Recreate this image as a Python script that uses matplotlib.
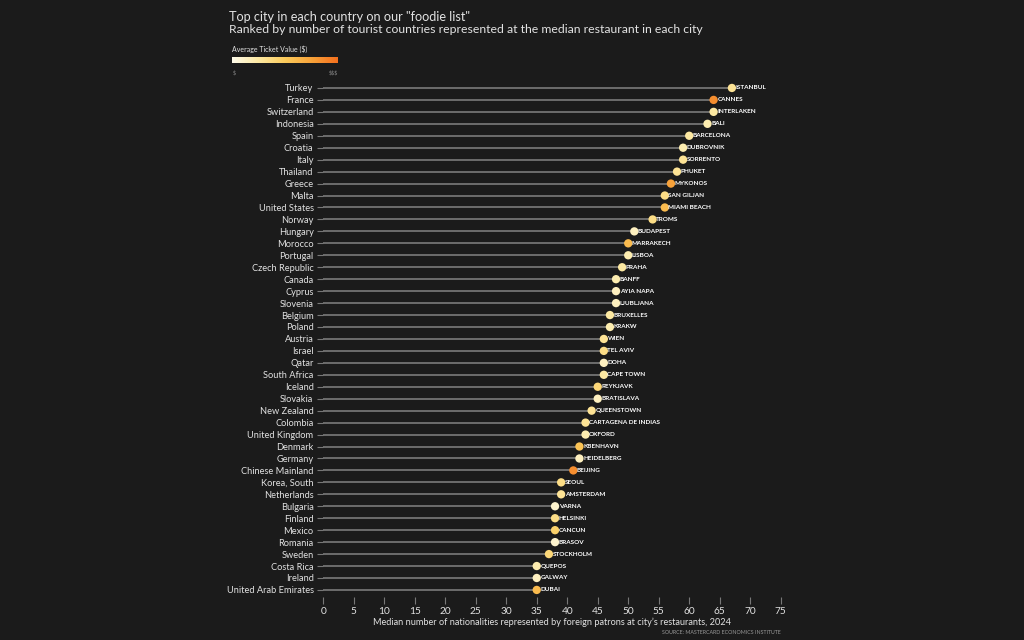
import matplotlib
matplotlib.use('Agg')
import matplotlib.pyplot as plt
from matplotlib.colors import LinearSegmentedColormap
import numpy as np

plt.rcParams['font.family'] = ['Lato', 'DejaVu Sans']

countries = ['Turkey', 'France', 'Switzerland', 'Indonesia', 'Spain', 'Croatia', 'Italy',
             'Thailand', 'Greece', 'Malta', 'United States', 'Norway', 'Hungary', 'Morocco',
             'Portugal', 'Czech Republic', 'Canada', 'Cyprus', 'Slovenia', 'Belgium', 'Poland',
             'Austria', 'Israel', 'Qatar', 'South Africa', 'Iceland', 'Slovakia', 'New Zealand',
             'Colombia', 'United Kingdom', 'Denmark', 'Germany', 'Chinese Mainland',
             'Korea, South', 'Netherlands', 'Bulgaria', 'Finland', 'Mexico', 'Romania',
             'Sweden', 'Costa Rica', 'Ireland', 'United Arab Emirates']
cities = ['ISTANBUL', 'CANNES', 'INTERLAKEN', 'BALI', 'BARCELONA', 'DUBROVNIK', 'SORRENTO',
          'PHUKET', 'MYKONOS', 'SAN GILJAN', 'MIAMI BEACH', 'TROMS', 'BUDAPEST', 'MARRAKECH',
          'LISBOA', 'PRAHA', 'BANFF', 'AYIA NAPA', 'LJUBLJANA', 'BRUXELLES', 'KRAKW',
          'WIEN', 'TEL AVIV', 'DOHA', 'CAPE TOWN', 'REYKJAVK', 'BRATISLAVA', 'QUEENSTOWN',
          'CARTAGENA DE INDIAS', 'OXFORD', 'KBENHAVN', 'HEIDELBERG', 'BEIJING',
          'SEOUL', 'AMSTERDAM', 'VARNA', 'HELSINKI', 'CANCUN', 'BRASOV',
          'STOCKHOLM', 'QUEPOS', 'GALWAY', 'DUBAI']
nationalities = [67, 64, 64, 63, 60, 59, 59, 58, 57, 56, 56, 54, 51, 50, 50, 49, 48, 48, 48,
                 47, 47, 46, 46, 46, 46, 45, 45, 44, 43, 43, 42, 42, 41, 39, 39, 38, 38, 38,
                 38, 37, 35, 35, 35]
# relative average ticket value (0 = $, 1 = $$$)
ticket = [0.3, 0.85, 0.25, 0.2, 0.25, 0.2, 0.3, 0.3, 0.75, 0.35, 0.6, 0.35, 0.15, 0.6,
          0.2, 0.25, 0.2, 0.15, 0.15, 0.25, 0.2, 0.3, 0.35, 0.15, 0.25, 0.4, 0.15, 0.3,
          0.3, 0.2, 0.55, 0.15, 0.85, 0.35, 0.3, 0.1, 0.35, 0.45, 0.1, 0.4, 0.2, 0.15, 0.6]

bg = '#1b1b1b'
txt = '#e2e2e2'
cmap = LinearSegmentedColormap.from_list('ticket', ['#fffbea', '#fde9a2', '#fbcb5c',
                                                     '#f8a33a', '#f4701e'])

fig = plt.figure(figsize=(10.24, 6.4), dpi=100)
fig.patch.set_facecolor(bg)
ax = fig.add_axes([0.3157, 0.0672, 0.4467, 0.8047])
ax.set_facecolor(bg)

y = np.arange(len(countries))
ax.hlines(y, 0, nationalities, color='#737373', lw=1.3, zorder=1)
ax.scatter(nationalities, y, s=36, c=ticket, cmap=cmap, vmin=0, vmax=1,
           edgecolors='none', zorder=3)
for yi, v, name in zip(y, nationalities, cities):
    ax.text(v + 0.6, yi, name, fontsize=4.6, weight='bold', color='white',
            va='center', ha='left', zorder=4)

ax.set_xlim(0, 75)
ax.set_ylim(len(countries) - 0.41, -0.5)
ax.set_xticks(np.arange(0, 76, 5))
ax.set_yticks(y)
ax.set_yticklabels(countries)
for s in ax.spines.values():
    s.set_visible(False)
ax.tick_params(axis='y', colors='#777777', labelcolor=txt, labelsize=6.7, length=4, width=0.8, pad=3)
ax.tick_params(axis='x', colors='#777777', labelcolor=txt, labelsize=7.3, length=5, width=0.8, pad=2)
ax.set_xlabel("Median number of nationalities represented by foreign patrons at city\u2019s restaurants, 2024",
              fontsize=6.6, color=txt, labelpad=1)

fig.text(0.2236, 0.974, 'Top city in each country on our "foodie list"', fontsize=9.1,
         color=txt, va='center', ha='left')
fig.text(0.2236, 0.954, 'Ranked by number of tourist countries represented at the median restaurant in each city',
         fontsize=8.8, color=txt, va='center', ha='left')

# colour legend
fig.text(0.2266, 0.923, 'Average Ticket Value ($)', fontsize=5, color=txt, va='center', ha='left')
cax = fig.add_axes([0.2266, 0.901, 0.1035, 0.0095])
cax.imshow(np.linspace(0, 1, 256)[None, :], aspect='auto', cmap=cmap)
cax.set_axis_off()
fig.text(0.2275, 0.887, '$', fontsize=4, color='#888888', va='center', ha='left')
fig.text(0.3301, 0.887, '$$$', fontsize=4, color='#888888', va='center', ha='right')

fig.text(0.7627, 0.011, 'SOURCE: MASTERCARD ECONOMICS INSTITUTE', fontsize=3.8,
         color='#9a9a9a', va='center', ha='right')

fig.savefig('out.png', dpi=100, facecolor=bg)
